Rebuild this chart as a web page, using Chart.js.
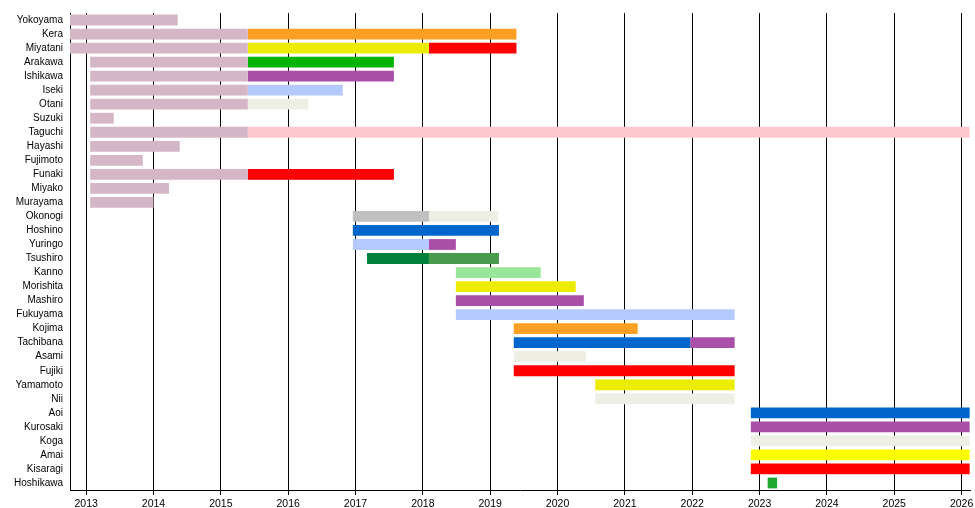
<!DOCTYPE html>
<html>
<head>
<meta charset="utf-8">
<script src="https://cdn.jsdelivr.net/npm/chart.js@4"></script>
<style>
  body { margin: 0; background: #fff; }
  #wrap { width: 975px; height: 508px; }
</style>
</head>
<body>
<div id="wrap"><canvas id="timeline"></canvas></div>
<script>
const members = [
  'Yokoyama', 'Kera', 'Miyatani', 'Arakawa', 'Ishikawa', 'Iseki', 'Otani', 'Suzuki',
  'Taguchi', 'Hayashi', 'Fujimoto', 'Funaki', 'Miyako', 'Murayama', 'Okonogi', 'Hoshino',
  'Yuringo', 'Tsushiro', 'Kanno', 'Morishita', 'Mashiro', 'Fukuyama', 'Kojima', 'Tachibana',
  'Asami', 'Fujiki', 'Yamamoto', 'Nii', 'Aoi', 'Kurosaki', 'Koga', 'Amai', 'Kisaragi', 'Hoshikawa'
];

const years = [2013, 2014, 2015, 2016, 2017, 2018, 2019, 2020, 2021, 2022, 2023, 2024, 2025, 2026];

// first period of each member
const term1 = [
  [2012.76, 2014.36], [2012.76, 2015.40], [2012.76, 2015.40], [2013.06, 2015.40],
  [2013.06, 2015.40], [2013.06, 2015.40], [2013.06, 2015.40], [2013.06, 2013.41],
  [2013.06, 2015.40], [2013.06, 2014.39], [2013.06, 2013.84], [2013.06, 2015.40],
  [2013.06, 2014.23], [2013.06, 2014.00], [2016.96, 2018.09], [2016.96, 2019.13],
  [2016.96, 2018.09], [2017.17, 2018.09], [2018.49, 2019.75], [2018.49, 2020.27],
  [2018.49, 2020.39], [2018.49, 2022.63], [2019.35, 2021.19], [2019.35, 2021.97],
  [2019.35, 2020.42], [2019.35, 2022.63], [2020.56, 2022.63], [2020.56, 2022.63],
  [2022.87, 2026.12], [2022.87, 2026.12], [2022.87, 2026.12], [2022.87, 2026.12],
  [2022.87, 2026.12], [2023.12, 2023.26]
];

// second period
const term2 = [
  null, [2015.40, 2019.39], [2015.40, 2018.09], [2015.40, 2017.57],
  [2015.40, 2017.57], [2015.40, 2016.81], [2015.40, 2016.30], null,
  [2015.40, 2026.12], null, null, [2015.40, 2017.57],
  null, null, [2018.09, 2019.12], null,
  [2018.09, 2018.49], [2018.09, 2019.13], null, null,
  null, null, null, [2021.97, 2022.63],
  null, null, null, null,
  null, null, null, null,
  null, null
];

// third period
const term3 = members.map(() => null);
term3[2] = [2018.09, 2019.39];

const pink = '#d4b6c6';
const term1Colors = [
  pink, pink, pink, pink, pink, pink, pink, pink,
  pink, pink, pink, pink, pink, pink, '#c0c0c0', '#0066cc',
  '#b4caff', '#00803a', '#98e698', '#ecec00', '#aa4fa8', '#b4caff', '#ffa024', '#0066cc',
  '#eeeee4', '#ff0000', '#ecec00', '#eeeee4', '#0066cc', '#aa4fa8', '#eeeee4', '#ffff00',
  '#ff0000', '#20a830'
];
const term2Colors = [
  null, '#ffa024', '#ecec00', '#00b400', '#aa4fa8', '#b4caff', '#eeeee4', null,
  '#ffc8d0', null, null, '#ff0000', null, null, '#eeeee4', null,
  '#aa4fa8', '#4a9a4e', null, null, null, null, null, '#aa4fa8',
  null, null, null, null, null, null, null, null, null, null
];
const term3Colors = members.map(() => '#ff0000');

const font = { family: "'Liberation Sans', Arial, sans-serif", size: 10 };

function bars(data, colors) {
  return {
    data: data,
    backgroundColor: colors,
    borderWidth: 0,
    borderSkipped: false,
    grouped: false,
    categoryPercentage: 1,
    barPercentage: 0.77
  };
}

new Chart(document.getElementById('timeline'), {
  type: 'bar',
  data: {
    labels: members,
    datasets: [
      bars(term1, term1Colors),
      bars(term2, term2Colors),
      bars(term3, term3Colors)
    ]
  },
  options: {
    indexAxis: 'y',
    responsive: true,
    maintainAspectRatio: false,
    animation: false,
    layout: { padding: { top: 13, right: 5, left: 0, bottom: 0 } },
    plugins: { legend: { display: false }, tooltip: { enabled: false } },
    scales: {
      x: {
        type: 'linear',
        position: 'bottom',
        min: 2012.76,
        max: 2026.125,
        afterBuildTicks: s => { s.ticks = years.map(v => ({ value: v })); },
        afterFit: s => { s.height = 18; s.paddingLeft = 0; s.paddingRight = 0; },
        grid: { color: '#000', lineWidth: 1, tickLength: 5 },
        border: { display: true, color: '#000', width: 1 },
        ticks: {
          color: '#000',
          padding: 3,
          maxRotation: 0,
          font: { family: font.family, size: 10.5 },
          callback: v => String(v)
        }
      },
      y: {
        type: 'category',
        afterFit: s => { s.width = 70; },
        grid: { display: false, drawTicks: false },
        border: { display: true, color: '#000', width: 1 },
        ticks: { color: '#000', padding: 7, autoSkip: false, font: font }
      }
    }
  }
});
</script>
</body>
</html>
